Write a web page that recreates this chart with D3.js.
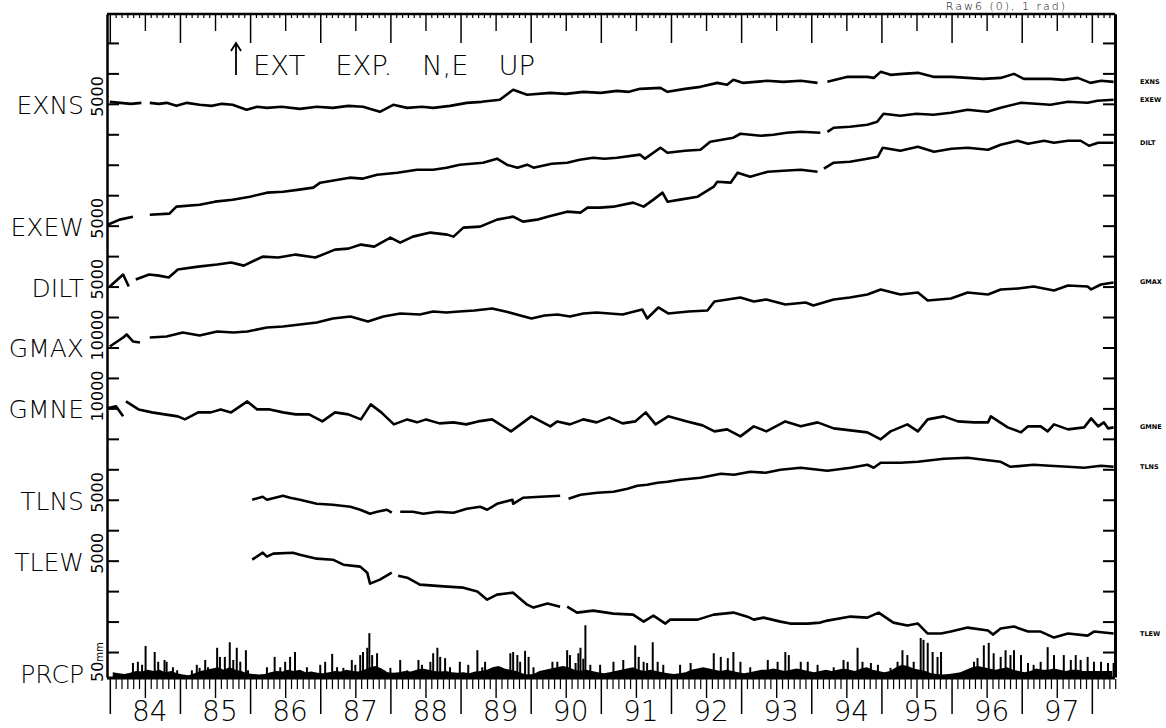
<!DOCTYPE html>
<html>
<head>
<meta charset="utf-8">
<script src="https://cdn.jsdelivr.net/npm/d3@7"></script>
<style>
  body { margin: 0; background: #fff; }
  svg { display: block; }
</style>
</head>
<body>
<script>
// ---- data ----
const yearValues = d3.range(1984, 1998);
const yearLabels = ["84", "85", "86", "87", "88", "89", "90", "91", "92", "93", "94", "95", "96", "97"];

const seriesNames = ["EXNS", "EXEW", "DILT", "GMAX", "GMNE", "TLNS", "TLEW"];
const scaleLabels = ["5000", "5000", "5000", "10000", "10000", "5000", "5000"];

// [decimal year, offset from start level in the unit of the scale label]; null = gap
const exnsData = [[1984.00, 330], [1984.15, 160], [1984.30, 0], [1984.45, 160], [1984.47, null], [1984.57, 160], [1984.70, 0],
    [1984.81, 160], [1984.95, -330], [1985.10, 160], [1985.28, -160], [1985.45, -330], [1985.60, 0], [1985.75, -160],
    [1985.95, -980], [1986.10, -490], [1986.24, -660], [1986.45, -490], [1986.71, -820], [1986.95, -490], [1987.18, -660],
    [1987.40, -330], [1987.61, -490], [1987.85, -1310], [1988.04, -160], [1988.24, -660], [1988.45, -490], [1988.61, -660],
    [1988.85, -330], [1989.09, 160], [1989.30, 330], [1989.56, 660], [1989.75, 2300], [1989.95, 1480], [1990.28, 1800],
    [1990.50, 1640], [1990.75, 1970], [1991.00, 1800], [1991.23, 2130], [1991.40, 1970], [1991.56, 2460], [1991.85, 2620],
    [1991.95, 1970], [1992.20, 2460], [1992.42, 2790], [1992.66, 3440], [1992.80, 3120], [1992.89, 3940], [1993.03, 3440],
    [1993.37, 3780], [1993.60, 3610], [1993.85, 3780], [1994.09, 3440], [1994.17, null], [1994.23, 3610], [1994.52, 4430],
    [1994.80, 4430], [1994.89, 4260], [1994.99, 5250], [1995.13, 4760], [1995.30, 4920], [1995.52, 5090], [1995.74, 4430],
    [1996.00, 4430], [1996.23, 4260], [1996.45, 4100], [1996.70, 4260], [1996.89, 4920], [1997.03, 4100], [1997.41, 4100],
    [1997.60, 3940], [1997.80, 4260], [1997.98, 3440], [1998.13, 3780], [1998.31, 3610]];

const exewData = [[1983.97, 160], [1984.14, 990], [1984.33, 1480], [1984.45, null], [1984.57, 1800], [1984.85, 1970],
    [1984.95, 3120], [1985.28, 3440], [1985.50, 3940], [1985.75, 4260], [1986.00, 4760], [1986.24, 5420], [1986.47, 5580],
    [1986.70, 5910], [1986.90, 6240], [1987.00, 7060], [1987.42, 7880], [1987.60, 7720], [1987.81, 8370], [1988.10, 8700],
    [1988.38, 9190], [1988.61, 9190], [1988.80, 9520], [1988.99, 10010], [1989.32, 10340], [1989.52, 11000], [1989.66, 10010],
    [1989.81, 9520], [1989.95, 10010], [1990.04, 9520], [1990.30, 10170], [1990.52, 10340], [1990.70, 10830], [1990.89, 11160],
    [1991.05, 10990], [1991.23, 11160], [1991.56, 11660], [1991.63, 11000], [1991.85, 12790], [1991.95, 11970], [1992.20, 12300],
    [1992.42, 12470], [1992.56, 13780], [1992.89, 14440], [1992.99, 15090], [1993.28, 14760], [1993.46, 14930], [1993.65, 15250],
    [1993.85, 15420], [1994.13, 15250], [1994.18, null], [1994.23, 15400], [1994.32, 16070], [1994.55, 16240], [1994.80, 16560],
    [1994.94, 17060], [1995.03, 18370], [1995.27, 18040], [1995.50, 18370], [1995.74, 18210], [1995.99, 18540], [1996.23, 19020],
    [1996.51, 18700], [1996.70, 19350], [1996.99, 20180], [1997.20, 20010], [1997.41, 19840], [1997.66, 20340], [1997.94, 20180],
    [1998.08, 20500], [1998.31, 20660]];

const diltData = [[1984.00, 0], [1984.19, 1970], [1984.27, 0], [1984.32, null], [1984.37, 1150], [1984.56, 1970], [1984.70, 1800],
    [1984.84, 1480], [1984.97, 2790], [1985.26, 3280], [1985.53, 3610], [1985.73, 3940], [1985.91, 3440], [1986.18, 4920],
    [1986.40, 4760], [1986.65, 5250], [1986.93, 4760], [1987.21, 6070], [1987.40, 6230], [1987.58, 6890], [1987.77, 6560],
    [1988.00, 8040], [1988.14, 7220], [1988.32, 8200], [1988.57, 8860], [1988.81, 8530], [1988.90, 8200], [1989.04, 9680],
    [1989.28, 9840], [1989.52, 10990], [1989.75, 11480], [1989.89, 10660], [1990.09, 10990], [1990.24, 11480], [1990.52, 12300],
    [1990.71, 12140], [1990.81, 12960], [1990.99, 12960], [1991.18, 13120], [1991.46, 13780], [1991.61, 13120], [1991.75, 14270],
    [1991.88, 15420], [1991.95, 13940], [1992.13, 14270], [1992.38, 14760], [1992.61, 16400], [1992.66, 17220], [1992.85, 17060],
    [1992.95, 18700], [1993.13, 18040], [1993.38, 18860], [1993.60, 19020], [1993.85, 19190], [1994.09, 18860], [1994.14, null],
    [1994.18, 19350], [1994.32, 20340], [1994.55, 20500], [1994.80, 20990], [1994.95, 21320], [1995.02, 22800], [1995.27, 22300],
    [1995.52, 22960], [1995.75, 22140], [1996.00, 22630], [1996.23, 22800], [1996.52, 22470], [1996.70, 23290], [1996.94, 23940],
    [1997.09, 23450], [1997.32, 23940], [1997.46, 23620], [1997.66, 23940], [1997.84, 23940], [1997.96, 23120], [1998.09, 23620],
    [1998.31, 23620]];

const gmaxData = [[1984.00, 330], [1984.19, 3280], [1984.24, 4270], [1984.33, 1970], [1984.43, 1640], [1984.50, null],
    [1984.57, 3280], [1984.81, 3610], [1985.04, 4930], [1985.28, 3940], [1985.53, 5250], [1985.76, 4930], [1985.96, 5250],
    [1986.24, 6570], [1986.47, 6900], [1986.71, 7550], [1986.95, 8210], [1987.18, 9520], [1987.43, 10180], [1987.68, 8540],
    [1987.90, 10180], [1988.14, 11170], [1988.42, 10840], [1988.61, 11820], [1988.80, 11490], [1988.98, 11820], [1989.20, 12150],
    [1989.45, 12810], [1989.64, 11820], [1990.01, 9520], [1990.20, 10510], [1990.38, 10840], [1990.56, 10180], [1990.75, 11170],
    [1990.94, 11490], [1991.31, 10840], [1991.59, 12480], [1991.66, 9520], [1991.82, 13140], [1991.96, 11170], [1992.25, 11820],
    [1992.52, 12150], [1992.62, 15110], [1992.99, 16420], [1993.18, 15110], [1993.36, 15760], [1993.63, 14120], [1993.92, 14780],
    [1994.03, 13790], [1994.32, 15760], [1994.55, 16420], [1994.80, 17400], [1994.99, 19050], [1995.27, 17400], [1995.52, 18060],
    [1995.66, 15430], [1995.99, 16090], [1996.23, 18060], [1996.52, 17400], [1996.70, 19050], [1996.95, 19380], [1997.17, 20030],
    [1997.46, 18720], [1997.66, 20360], [1997.94, 20030], [1997.99, 19050], [1998.13, 20690], [1998.31, 21340]];

const gmneData = [[1983.96, 0], [1984.09, 660], [1984.19, -2620], [1984.21, null], [1984.23, 2300], [1984.41, -330],
    [1984.60, -1310], [1984.78, -1970], [1984.97, -2620], [1985.07, -3610], [1985.26, -1310], [1985.44, -1310], [1985.58, -330],
    [1985.73, -1310], [1985.96, 2300], [1986.10, -330], [1986.28, -330], [1986.47, -1310], [1986.65, -1970], [1986.84, -1970],
    [1987.03, -4270], [1987.21, -1310], [1987.40, -1970], [1987.58, -3610], [1987.72, 1310], [1987.87, -1310], [1988.05, -5250],
    [1988.24, -3610], [1988.38, -4590], [1988.51, -3610], [1988.70, -4920], [1988.90, -4590], [1989.08, -5250], [1989.25, -4270],
    [1989.45, -3610], [1989.72, -7550], [1990.01, -2620], [1990.28, -5900], [1990.38, -4270], [1990.56, -5250], [1990.75, -3610],
    [1990.94, -4590], [1991.12, -2950], [1991.31, -4920], [1991.49, -4270], [1991.64, -1310], [1991.78, -5250], [1991.96, -2620],
    [1992.23, -4270], [1992.45, -5580], [1992.62, -7550], [1992.80, -6890], [1992.99, -9180], [1993.18, -5900], [1993.36, -7550],
    [1993.63, -4270], [1993.85, -5900], [1994.09, -4590], [1994.32, -6560], [1994.56, -7220], [1994.80, -7870], [1994.99, -10170],
    [1995.13, -7550], [1995.37, -5250], [1995.52, -7550], [1995.66, -3610], [1995.89, -2620], [1996.09, -4270], [1996.32, -4590],
    [1996.52, -4590], [1996.56, -2620], [1996.80, -6230], [1996.99, -7870], [1997.09, -5900], [1997.27, -5900], [1997.37, -7550],
    [1997.46, -5250], [1997.66, -6890], [1997.89, -6230], [1997.99, -3280], [1998.09, -5900], [1998.17, -4590], [1998.23, -6560],
    [1998.31, -6230]];

const tlnsData = [[1986.03, 0], [1986.18, 490], [1986.24, 0], [1986.47, 660], [1986.57, 330], [1986.71, 0], [1986.95, -660],
    [1987.18, -820], [1987.43, -1150], [1987.57, -1640], [1987.71, -2300], [1987.81, -1970], [1987.95, -1640], [1988.02, -2130],
    [1988.07, null], [1988.14, -1970], [1988.32, -1970], [1988.47, -2300], [1988.67, -1970], [1988.90, -2130], [1989.09, -1480],
    [1989.28, -1150], [1989.38, -1640], [1989.52, -660], [1989.74, 0], [1989.75, -660], [1989.89, 330], [1990.14, 490],
    [1990.42, 660], [1990.47, null], [1990.54, 160], [1990.71, 820], [1990.95, 1150], [1991.18, 1310], [1991.38, 1800],
    [1991.52, 2300], [1991.66, 2460], [1991.81, 2790], [1991.95, 2950], [1992.13, 3280], [1992.42, 3610], [1992.71, 4260],
    [1992.90, 4100], [1993.13, 4590], [1993.35, 4430], [1993.56, 4920], [1993.85, 5250], [1994.23, 4760], [1994.56, 5250],
    [1994.80, 5740], [1994.89, 5250], [1994.99, 6070], [1995.27, 6070], [1995.52, 6230], [1995.89, 6720], [1996.23, 6890],
    [1996.46, 6560], [1996.70, 6230], [1996.84, 5410], [1997.17, 5740], [1997.40, 5580], [1997.66, 5410], [1997.89, 5250],
    [1998.13, 5580], [1998.31, 5410]];

const tlewData = [[1986.03, 160], [1986.18, 1310], [1986.24, 660], [1986.33, 1150], [1986.61, 1310], [1986.71, 980],
    [1986.95, 330], [1987.18, 160], [1987.33, -660], [1987.57, -980], [1987.67, -1970], [1987.71, -3770], [1987.85, -3120],
    [1988.02, -1970], [1988.06, null], [1988.11, -2460], [1988.24, -2790], [1988.42, -3940], [1988.81, -4260], [1989.04, -4430],
    [1989.24, -5080], [1989.38, -6400], [1989.52, -5580], [1989.75, -5250], [1989.95, -7220], [1990.04, -7710], [1990.24, -7050],
    [1990.42, -7550], [1990.46, null], [1990.52, -7550], [1990.66, -8530], [1990.89, -8200], [1991.18, -8690], [1991.46, -8860],
    [1991.61, -10010], [1991.75, -9020], [1991.92, -10330], [1991.99, -9680], [1992.38, -9680], [1992.61, -8860], [1992.89, -8530],
    [1993.09, -9190], [1993.18, -9680], [1993.32, -9350], [1993.56, -10010], [1993.70, -10330], [1993.95, -10330], [1994.13, -10170],
    [1994.23, -9840], [1994.56, -9180], [1994.80, -9350], [1994.96, -8530], [1995.17, -10170], [1995.37, -10660], [1995.52, -10330],
    [1995.66, -11970], [1995.85, -11970], [1995.99, -11640], [1996.23, -10990], [1996.52, -11480], [1996.59, -12140],
    [1996.70, -11150], [1996.89, -10820], [1997.09, -11640], [1997.27, -11640], [1997.46, -12630], [1997.66, -11970],
    [1997.94, -12300], [1998.03, -11640], [1998.31, -11970]];

const seriesData = [exnsData, exewData, diltData, gmaxData, gmneData, tlnsData, tlewData];

// precipitation: typical monthly level (mm) from Jan 1984, and the taller daily peaks [year, mm]
const prcpMonthly = [
    8, 6, 5, 7, 10, 9, 12, 10, 12, 8, 10, 6,
    4, 3, 6, 10, 12, 14, 16, 12, 16, 12, 10, 6,
    5, 4, 5, 8, 10, 9, 12, 10, 12, 8, 9, 7,
    6, 8, 10, 9, 12, 10, 9, 12, 16, 18, 14, 8,
    7, 8, 10, 9, 12, 14, 12, 10, 9, 10, 8, 7,
    8, 6, 9, 10, 12, 16, 18, 14, 12, 10, 6, 4,
    5, 10, 12, 14, 16, 18, 16, 12, 10, 12, 10, 8,
    6, 8, 10, 12, 14, 16, 12, 10, 12, 10, 8, 6,
    5, 6, 8, 12, 14, 16, 14, 12, 10, 12, 10, 8,
    6, 8, 10, 12, 12, 14, 12, 10, 12, 14, 12, 10,
    8, 10, 12, 10, 12, 14, 12, 10, 14, 16, 12, 10,
    8, 10, 16, 20, 18, 14, 12, 10, 6, 5, 4, 5,
    6, 8, 12, 16, 18, 16, 14, 12, 14, 16, 12, 10,
    8, 10, 14, 12, 12, 14, 12, 10, 12, 12, 10, 10,
    10, 10, 10, 10];

const prcpPeaks = [[1984.33, 23], [1984.40, 25], [1984.46, 20], [1984.51, 51], [1984.64, 41], [1984.69, 25], [1984.78, 28],
    [1984.81, 25], [1984.90, 16], [1984.96, 11], [1985.17, 11], [1985.24, 20], [1985.28, 15], [1985.36, 28], [1985.40, 16],
    [1985.53, 48], [1985.57, 33], [1985.64, 33], [1985.71, 57], [1985.76, 28], [1985.81, 48], [1985.86, 25], [1985.94, 44],
    [1985.97, 11], [1986.24, 16], [1986.35, 33], [1986.43, 16], [1986.50, 25], [1986.57, 33], [1986.64, 41], [1986.71, 11],
    [1986.81, 16], [1986.90, 8], [1987.00, 20], [1987.07, 25], [1987.17, 38], [1987.24, 16], [1987.33, 15], [1987.45, 28],
    [1987.50, 20], [1987.57, 36], [1987.61, 41], [1987.67, 48], [1987.70, 72], [1987.74, 36], [1987.81, 39], [1987.90, 11],
    [1988.00, 15], [1988.14, 28], [1988.24, 11], [1988.40, 28], [1988.45, 20], [1988.57, 25], [1988.61, 39], [1988.67, 48],
    [1988.71, 33], [1988.78, 31], [1988.85, 16], [1988.99, 25], [1989.11, 20], [1989.24, 44], [1989.31, 16], [1989.35, 25],
    [1989.47, 15], [1989.57, 16], [1989.71, 39], [1989.75, 41], [1989.81, 36], [1989.85, 25], [1989.92, 43], [1989.97, 33],
    [1990.04, 16], [1990.31, 25], [1990.38, 25], [1990.52, 44], [1990.56, 36], [1990.64, 23], [1990.68, 39], [1990.71, 48],
    [1990.75, 30], [1990.78, 85], [1990.85, 20], [1990.99, 20], [1991.18, 25], [1991.32, 28], [1991.49, 52], [1991.54, 33],
    [1991.61, 25], [1991.66, 23], [1991.74, 57], [1991.81, 25], [1991.89, 20], [1992.13, 20], [1992.28, 23], [1992.42, 11],
    [1992.61, 39], [1992.71, 33], [1992.81, 31], [1992.89, 41], [1992.99, 25], [1993.13, 16], [1993.38, 28], [1993.52, 25],
    [1993.63, 41], [1993.68, 36], [1993.85, 25], [1993.95, 25], [1994.09, 20], [1994.32, 16], [1994.46, 28], [1994.52, 25],
    [1994.66, 48], [1994.73, 25], [1994.85, 23], [1994.95, 20], [1995.13, 15], [1995.23, 25], [1995.30, 44], [1995.37, 36],
    [1995.46, 25], [1995.56, 64], [1995.60, 61], [1995.66, 56], [1995.73, 41], [1995.80, 33], [1995.85, 41], [1996.32, 25],
    [1996.37, 31], [1996.46, 52], [1996.53, 56], [1996.60, 39], [1996.70, 33], [1996.77, 44], [1996.84, 36], [1996.89, 44],
    [1996.99, 36], [1997.09, 23], [1997.17, 20], [1997.27, 25], [1997.37, 49], [1997.46, 36], [1997.60, 36], [1997.70, 28],
    [1997.77, 36], [1997.84, 28], [1997.94, 33], [1998.03, 25], [1998.13, 25], [1998.23, 23], [1998.31, 23]];

const prcpName = "PRCP";
const prcpScale = 50;
const noteText = "EXT EXP. N,E UP";
const headerText = "Raw6 (0), 1 rad)";

// ---- layout ----
const W = 1166, H = 728;
const frame = {left: 107, right: 1115, top: 14, bottom: 677};
const rowOf = {EXNS: 18, EXEW: 14, DILT: 12, GMAX: 10, GMNE: 8, TLNS: 5, TLEW: 3};
const FONT = '"DejaVu Sans", sans-serif';

const svg = d3.select("body").append("svg")
    .attr("width", W)
    .attr("height", H);

const xScale = d3.scaleLinear().domain([1983.96, 1998.33]).range([frame.left, frame.right]);
const yScale = d3.scaleLinear().domain([-0.82, 20.95]).range([frame.bottom, frame.top]);
const prcpBase = yScale.domain()[0];

function styleAxis(g, width) {
    g.selectAll("path, line").attr("stroke", "#000").attr("stroke-width", width);
    g.selectAll("text").remove();
}

// month / half-year / year tick sets
const monthTicks = d3.range(0, 173).map((i) => 1984 + i / 12).filter((t) => t % 0.5 !== 0);
const halfTicks = d3.range(1984.5, 1998.4, 1);
const yearTicks = d3.range(1984, 1999);

function renderTimeAxis(y, sizes) {
    [[monthTicks, sizes[0], 1.2], [halfTicks, sizes[1], 1.4], [yearTicks, sizes[2], 1.5]].forEach(function (s) {
        const g = svg.append("g")
            .attr("transform", "translate(0," + y + ")")
            .call(d3.axisBottom(xScale).tickValues(s[0]).tickSize(s[1]).tickSizeOuter(0).tickFormat(""));
        g.select(".domain").remove();
        styleAxis(g, s[2]);
    });
}

// top axis: ticks hanging down into the plot; bottom axis: ticks below the plot
renderTimeAxis(frame.top, [4, 17, 29]);
renderTimeAxis(frame.bottom + 2, [10, 19, 35]);

// left and right frame with division ticks pointing inwards
const divTicks = d3.range(0, 21);
const leftAxis = svg.append("g")
    .attr("transform", "translate(" + frame.left + ",0)")
    .call(d3.axisRight(yScale).tickValues(divTicks).tickSize(12).tickSizeOuter(0).tickFormat(""));
styleAxis(leftAxis, 2);
leftAxis.select(".domain").attr("stroke-width", 2.5);

const rightAxis = svg.append("g")
    .attr("transform", "translate(" + frame.right + ",0)")
    .call(d3.axisLeft(yScale).tickValues(divTicks).tickSize(12).tickSizeOuter(0).tickFormat(""));
styleAxis(rightAxis, 2);
rightAxis.select(".domain").attr("stroke-width", 3);

// top frame and bottom base line
svg.append("line")
    .attr("x1", frame.left).attr("x2", frame.right)
    .attr("y1", frame.top).attr("y2", frame.top)
    .attr("stroke", "#000").attr("stroke-width", 2.5);
svg.append("line")
    .attr("x1", frame.left).attr("x2", frame.right)
    .attr("y1", frame.bottom + 1).attr("y2", frame.bottom + 1)
    .attr("stroke", "#000").attr("stroke-width", 3);

// year labels
svg.append("g").selectAll("text")
    .data(yearValues)
    .enter()
    .append("text")
    .attr("x", (d) => xScale(d + 0.57))
    .attr("y", 721)
    .attr("text-anchor", "middle")
    .style("font-family", FONT)
    .style("font-size", "28px")
    .style("font-weight", "200")
    .text((d, i) => yearLabels[i]);

// series lines
seriesNames.forEach(function (name, i) {
    const row = rowOf[name];
    const scale = +scaleLabels[i];
    const data = seriesData[i];
    const line = d3.line()
        .defined((d) => d[1] !== null)
        .x((d) => xScale(d[0]))
        .y((d) => yScale(row + d[1] / scale));

    svg.append("path")
        .datum(data)
        .attr("fill", "none")
        .attr("stroke", "#000")
        .attr("stroke-width", 2.6)
        .attr("stroke-linejoin", "round")
        .attr("d", line);

    // name on the left
    svg.append("text")
        .attr("x", 84)
        .attr("y", yScale(row) + 10)
        .attr("text-anchor", "end")
        .style("font-family", FONT)
        .style("font-size", "25px")
        .style("font-weight", "200")
        .text(name);

    // scale value, vertical
    svg.append("text")
        .attr("transform", "translate(103," + (yScale(row) + 13) + ") rotate(-90)")
        .style("font-family", FONT)
        .style("font-size", "16px")
        .text(scaleLabels[i]);

    // tiny tag at the right end
    const last = data[data.length - 1];
    svg.append("text")
        .attr("x", 1140)
        .attr("y", yScale(row + last[1] / scale) + 2)
        .style("font-family", FONT)
        .style("font-size", "6.5px")
        .style("font-weight", "bold")
        .text(name);
});

// precipitation
const prcpArea = d3.area()
    .x((d, i) => xScale(1984 + (i + 0.5) / 12))
    .y0(frame.bottom)
    .y1((d) => yScale(prcpBase + d / prcpScale));

svg.append("path")
    .datum(prcpMonthly)
    .attr("fill", "#000")
    .attr("d", prcpArea);

svg.append("g").selectAll("line")
    .data(prcpPeaks)
    .enter()
    .append("line")
    .attr("x1", (d) => xScale(d[0]))
    .attr("x2", (d) => xScale(d[0]))
    .attr("y1", frame.bottom)
    .attr("y2", (d) => yScale(prcpBase + d[1] / prcpScale))
    .attr("stroke", "#000")
    .attr("stroke-width", 2);

svg.append("text")
    .attr("x", 84)
    .attr("y", frame.bottom + 6)
    .attr("text-anchor", "end")
    .style("font-family", FONT)
    .style("font-size", "25px")
    .style("font-weight", "200")
    .text(prcpName);

const prcpLabel = svg.append("text")
    .attr("transform", "translate(103," + (frame.bottom + 5) + ") rotate(-90)")
    .style("font-family", FONT)
    .style("font-size", "16px");
prcpLabel.append("tspan").text(String(prcpScale));
prcpLabel.append("tspan").style("font-size", "10px").text("mm");

// annotation with arrow
svg.append("path")
    .attr("d", "M236,75V44M231,51L236,43L241,51")
    .attr("fill", "none")
    .attr("stroke", "#000")
    .attr("stroke-width", 1.8);

svg.append("text")
    .attr("x", 253)
    .attr("y", 75)
    .attr("textLength", 282)
    .attr("lengthAdjust", "spacingAndGlyphs")
    .style("font-family", FONT)
    .style("font-size", "26px")
    .style("font-weight", "200")
    .style("word-spacing", "20px")
    .text(noteText);

// header above the frame
svg.append("text")
    .attr("x", 1067)
    .attr("y", 10)
    .attr("text-anchor", "end")
    .style("font-family", FONT)
    .style("font-size", "11px")
    .style("font-weight", "200")
    .style("letter-spacing", "2px")
    .text(headerText);
</script>
</body>
</html>
